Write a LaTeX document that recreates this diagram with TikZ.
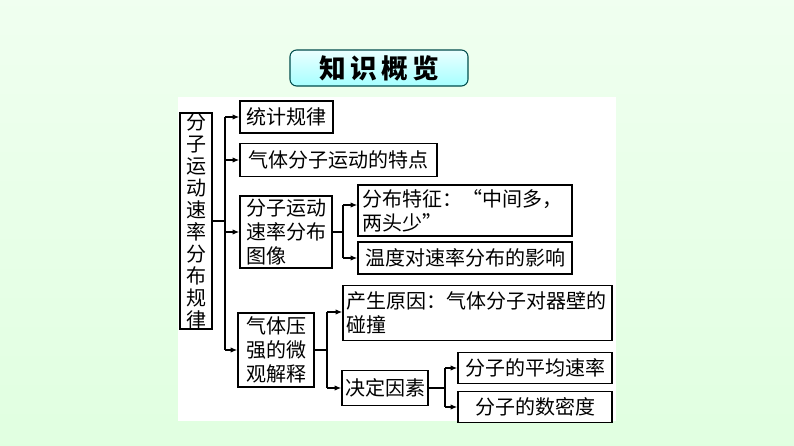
\documentclass[tikz,border=0pt]{standalone}
\usepackage{fontspec}
\setmainfont{Noto Sans CJK SC}
\usetikzlibrary{arrows.meta}
\begin{document}
\begin{tikzpicture}[x=0.75pt,y=-0.75pt,
  bx/.style={draw=black,line width=1pt,fill=white,inner sep=0pt,font=\fontsize{15}{18}\selectfont,align=left},
  ln/.style={line width=1pt},
  ar/.style={line width=1pt,-{Latex[length=5pt,width=4pt]}}]
\useasboundingbox (0,0) rectangle (794,446);
\shade[top color=green!6!white,bottom color=green!12!white] (0,0) rectangle (794,446);
\fill[white] (178,97) rectangle (616,421);
\node[draw=teal!60!black,line width=0.8pt,rounded corners=5pt,top color=cyan!8!white,bottom color=cyan!35!white,minimum width=178*0.75pt,minimum height=36*0.75pt,font=\bfseries\fontsize{20}{22}\selectfont] (t) at (379,68) {知\,识\,概\,览};
\node[bx,minimum width=32*0.75pt,minimum height=212*0.75pt,align=center,font=\fontsize{15}{16.5}\selectfont] (m) at (196,221) {分\\子\\运\\动\\速\\率\\分\\布\\规\\律};
\node[bx,minimum width=93*0.75pt,minimum height=32*0.75pt] (a) at (286.5,117) {统计规律};
\node[bx,minimum width=197*0.75pt,minimum height=33*0.75pt] (b) at (338.5,160) {气体分子运动的特点};
\node[bx,minimum width=92*0.75pt,minimum height=72*0.75pt] (c) at (286,232) {分子运动\\速率分布\\图像};
\node[bx,minimum width=76*0.75pt,minimum height=74*0.75pt] (d) at (276,350) {气体压\\强的微\\观解释};
\node[bx,minimum width=214*0.75pt,minimum height=51*0.75pt,text width=205*0.75pt] (c1) at (465,210.5) {分布特征：“中间多，\\两头少”};
\node[bx,minimum width=214*0.75pt,minimum height=32*0.75pt] (c2) at (465,258) {温度对速率分布的影响};
\node[bx,minimum width=269*0.75pt,minimum height=55*0.75pt,text width=262*0.75pt] (d1) at (477.5,313) {产生原因：气体分子对器壁的\\碰撞};
\node[bx,minimum width=86*0.75pt,minimum height=35*0.75pt] (d2) at (385,388) {决定因素};
\node[bx,minimum width=154*0.75pt,minimum height=31*0.75pt] (e1) at (535,368) {分子的平均速率};
\node[bx,minimum width=154*0.75pt,minimum height=31*0.75pt] (e2) at (535,407) {分子的数密度};
\coordinate (j) at (225,221);
\draw[ln] (m.east) -- (j);
\draw[ln] (225,117) -- (225,350);
\draw[ar] (225,117) -- (a.west);
\draw[ar] (225,160) -- (b.west);
\draw[ar] (225,232) -- (c.west);
\draw[ar] (225,350) -- (d.west);
\draw[ln] (c.east) -- (343,232);
\draw[ln] (343,205) -- (343,258);
\draw[ar] (343,205) -- (c1.west|-343,205);
\draw[ar] (343,258) -- (c2.west);
\draw[ln] (d.east) -- (327,350);
\draw[ln] (327,312) -- (327,388);
\draw[ar] (327,312) -- (d1.west|-327,312);
\draw[ar] (327,388) -- (d2.west);
\draw[ln] (d2.east) -- (445,388);
\draw[ln] (445,368) -- (445,407);
\draw[ar] (445,368) -- (e1.west);
\draw[ar] (445,407) -- (e2.west);
\end{tikzpicture}
\end{document}
